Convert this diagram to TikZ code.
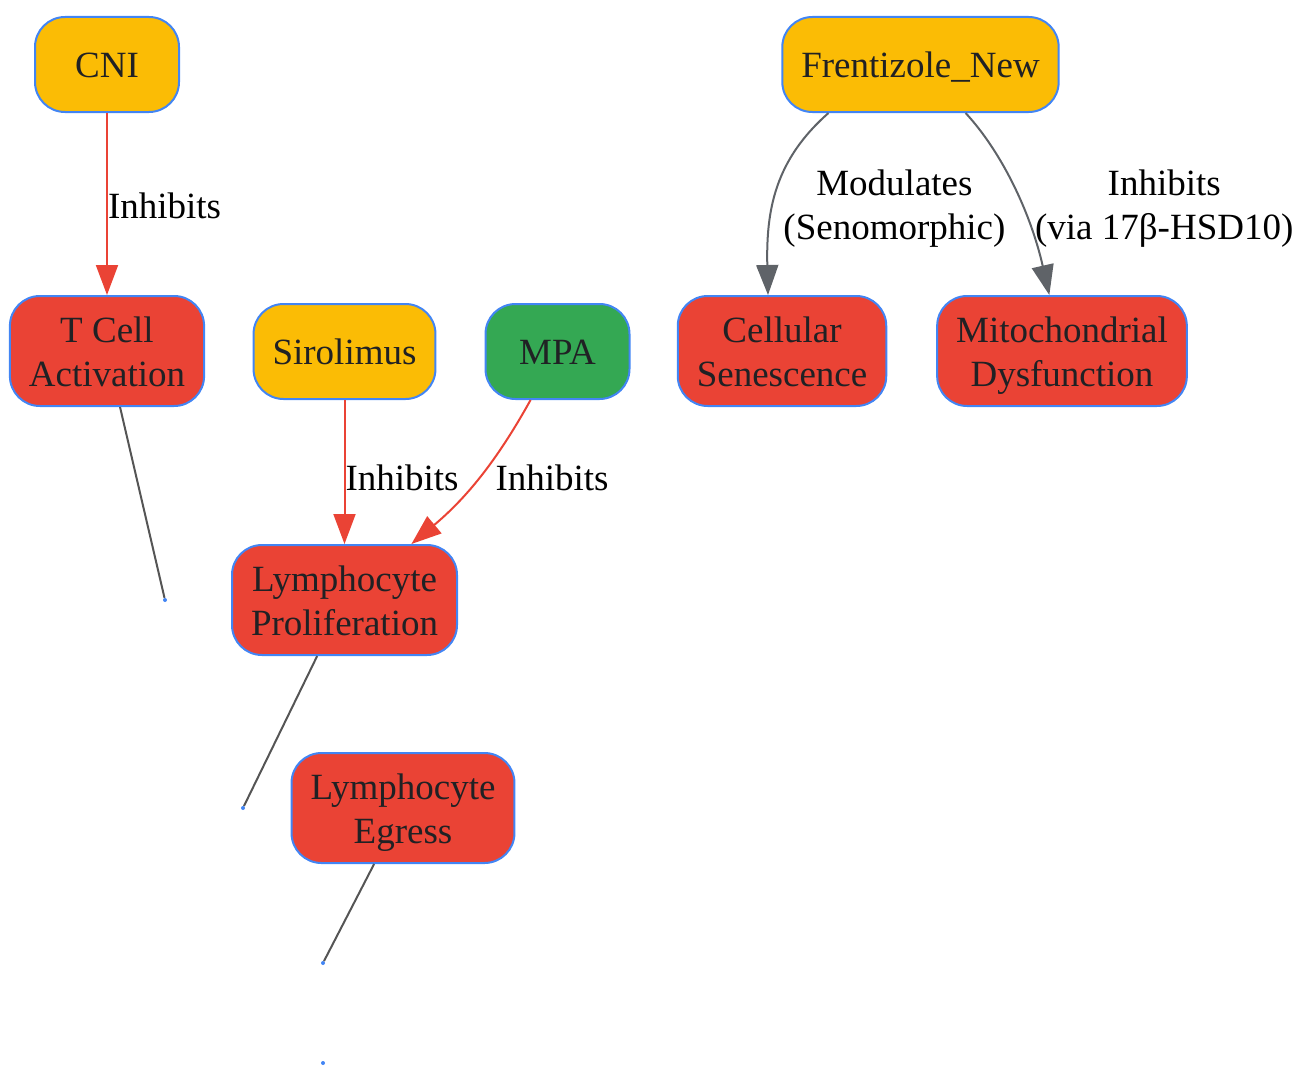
\documentclass[tikz,border=0pt]{standalone}
\usepackage{fontspec}
\setmainfont{Liberation Serif}
\usetikzlibrary{arrows.meta}

\definecolor{drugyellow}{HTML}{FBBC05}
\definecolor{effectred}{HTML}{EA4335}
\definecolor{druggreen}{HTML}{34A853}
\definecolor{boxblue}{HTML}{4285F4}
\definecolor{edgegray}{HTML}{5F6368}
\definecolor{linkgray}{HTML}{555555}
\definecolor{textdark}{HTML}{202124}

\begin{document}
\begin{tikzpicture}[x=1pt, y=-1pt,
	box/.style={draw=boxblue, line width=2pt, rounded corners=30pt, align=center, text=textdark, font=\fontsize{37}{44}\selectfont, inner xsep=19pt, inner ysep=12pt, minimum width=144pt, minimum height=95pt, text height=34pt, text depth=8pt},
	tall/.style={minimum height=110pt, text height=78pt},
	drug/.style={box, fill=drugyellow},
	agent/.style={box, fill=druggreen},
	effect/.style={box, fill=effectred},
	dot/.style={circle, fill=boxblue, inner sep=0pt, minimum size=4pt},
	lbl/.style={font=\fontsize{37}{44}\selectfont, align=center, inner sep=0pt},
	inhib/.style={draw=effectred, line width=2pt, -{Triangle[length=30pt,width=22pt]}},
	modul/.style={draw=edgegray, line width=2pt, -{Triangle[length=30pt,width=22pt]}},
	link/.style={draw=linkgray, line width=2pt}]
	
		\useasboundingbox (0,0) rectangle (1297,1065);
		
		%Drugs
		\node[drug] (cni) at (107,64.5) {CNI};
		\node[drug] (siro) at (344.5,351.5) {Sirolimus};
		\node[agent] (mpa) at (557.5,351.5) {MPA};
		\node[drug] (fren) at (920.5,64.5) {Frentizole\_New};
		
		%Effects
		\node[effect, tall] (tcell) at (107,351) {T Cell\\Activation};
		\node[effect, tall] (prolif) at (344.5,600) {Lymphocyte\\Proliferation};
		\node[effect, tall] (egress) at (403,808) {Lymphocyte\\Egress};
		\node[effect, tall] (senes) at (782,351) {Cellular\\Senescence};
		\node[effect, tall] (mito) at (1062,351) {Mitochondrial\\Dysfunction};
		
		\node[dot] (d1) at (165,600) {};
		\node[dot] (d2) at (243,808) {};
		\node[dot] (d3) at (323,963) {};
		\node[dot] (d4) at (323,1063) {};
		
		\draw[inhib] (cni) -- node[lbl, right, yshift=-2pt] {Inhibits} (tcell);
		\draw[inhib] (siro) -- node[lbl, right, pos=0.54] {Inhibits} (prolif);
		\draw[inhib] (mpa) .. controls (500,455) and (470,495) .. node[lbl, right, xshift=13pt, yshift=-4pt] {Inhibits} (prolif);
		
		\draw[modul] ([xshift=-92pt]fren.south) .. controls (775,160) and (766,210) .. node[lbl, right, xshift=5pt, yshift=-19pt] {Modulates\\(Senomorphic)} ([xshift=-14pt]senes.north);
		\draw[modul] (fren) .. controls (1000,150) and (1030,210) .. node[lbl, right, xshift=21pt, yshift=-23pt] {Inhibits\\(via 17β-HSD10)} (mito);
		
		\draw[link] (tcell) -- (d1);
		\draw[link] (prolif) -- (d2);
		\draw[link] (egress) -- (d3);
		
\end{tikzpicture}
\end{document}
